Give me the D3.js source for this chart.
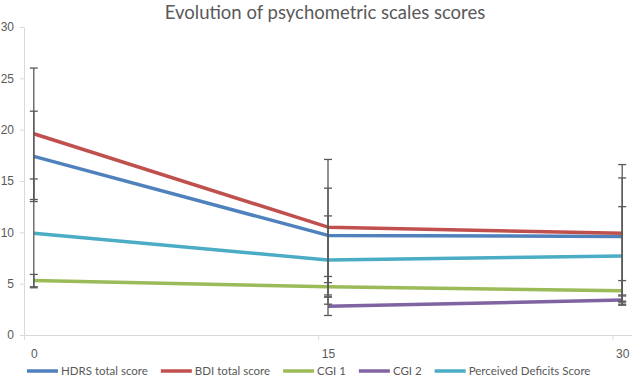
<!DOCTYPE html>
<html>
<head>
<meta charset="utf-8">
<script src="https://cdn.jsdelivr.net/npm/d3@7"></script>
<style>
  body { margin: 0; background: #fff; }
  svg { display: block; font-family: Lato, "Open Sans", sans-serif; }
</style>
</head>
<body>
<div id="chart"></div>
<script>
// Timepoints (days) and mean scores with their standard deviations
const days = [0, 15, 30];
const yTicks = [0, 5, 10, 15, 20, 25, 30];
const seriesNames = ['HDRS total score', 'BDI total score', 'CGI 1', 'CGI 2', 'Perceived Deficits Score'];
const hdrs = [17.4, 9.7, 9.6];
const hdrsSd = [4.4, 4.6, 5.7];
const bdi = [19.6, 10.5, 9.9];
const bdiSd = [6.4, 6.6, 6.7];
const cgi1 = [5.3, 4.7, 4.3];
const cgi1Sd = [0.6, 1.0, 1.0];
const cgi2 = [null, 2.8, 3.4];
const cgi2Sd = [null, 0.9, 0.4];
const deficits = [9.9, 7.3, 7.7];
const deficitsSd = [5.3, 4.3, 4.8];
const colors = ['#4F81BD', '#C0504D', '#9BBB59', '#8064A2', '#4BACC6'];

const width = 632, height = 377;
const margin = {top: 27, right: 0, bottom: 42, left: 24};

const series = [
  [hdrs, hdrsSd], [bdi, bdiSd], [cgi1, cgi1Sd], [cgi2, cgi2Sd], [deficits, deficitsSd]
].map(([vals, sds], i) => ({
  name: seriesNames[i],
  color: colors[i],
  points: days.map((d, j) => ({day: d, value: vals[j], sd: sds[j]}))
}));

const svg = d3.select('#chart').append('svg')
  .attr('width', width)
  .attr('height', height);

// category axis: 31 day slots, points sit in the middle of each slot
const x = d3.scaleLinear()
  .domain([days[0] - 0.5, days[days.length - 1] + 0.5])
  .range([margin.left, width - margin.right]);
const y = d3.scaleLinear()
  .domain([0, 30])
  .range([height - margin.bottom, margin.top]);

// title
svg.append('text')
  .attr('x', 325).attr('y', 19)
  .attr('text-anchor', 'middle')
  .attr('font-size', 18.5)
  .attr('fill', '#595959')
  .text('Evolution of psychometric scales scores');

// y axis
const yAxis = svg.append('g')
  .attr('transform', `translate(${margin.left},0)`)
  .call(d3.axisLeft(y).tickValues(yTicks).tickSize(4).tickPadding(6).tickSizeOuter(0));
yAxis.select('.domain').attr('stroke', '#D9D9D9');
yAxis.selectAll('.tick line').attr('stroke', '#D9D9D9');
yAxis.selectAll('.tick text').attr('fill', '#595959').attr('font-size', 12).attr('font-family', null);

// x axis: tick marks between slots, labels at the slot centres
const xAxis = svg.append('g')
  .attr('transform', `translate(0,${y(0)})`)
  .call(d3.axisBottom(x).tickValues(days.map(d => d - 0.5)).tickSize(5).tickFormat('').tickSizeOuter(0));
xAxis.select('.domain').attr('stroke', '#D9D9D9');
xAxis.selectAll('.tick line').attr('stroke', '#D9D9D9');

const xLabels = svg.append('g')
  .attr('transform', `translate(0,${y(0)})`)
  .call(d3.axisBottom(x).tickValues(days).tickSize(0).tickPadding(14));
xLabels.select('.domain').remove();
xLabels.selectAll('.tick text').attr('fill', '#595959').attr('font-size', 12).attr('font-family', null);

// lines
const line = d3.line()
  .defined(d => d.value != null)
  .x(d => x(d.day))
  .y(d => y(d.value));

svg.append('g').selectAll('path')
  .data(series)
  .join('path')
  .attr('fill', 'none')
  .attr('stroke', d => d.color)
  .attr('stroke-width', 3.5)
  .attr('stroke-linejoin', 'round')
  .attr('d', d => line(d.points));

// error bars (+/- SD)
const bars = svg.append('g').attr('stroke', '#595959').attr('stroke-width', 1.3);
series.forEach(s => {
  const pts = s.points.filter(p => p.value != null);
  bars.selectAll(null).data(pts).join('line')
    .attr('x1', p => x(p.day)).attr('x2', p => x(p.day))
    .attr('y1', p => y(p.value + p.sd)).attr('y2', p => y(p.value - p.sd));
  bars.selectAll(null).data(pts.flatMap(p => [p.value + p.sd, p.value - p.sd].map(v => ({day: p.day, v}))))
    .join('line')
    .attr('x1', c => x(c.day) - 4).attr('x2', c => x(c.day) + 4)
    .attr('y1', c => y(c.v)).attr('y2', c => y(c.v));
});

// legend
const legend = svg.append('g').attr('transform', `translate(0,${height - 6})`);
const items = legend.selectAll('g').data(series).join('g');
items.append('line')
  .attr('x1', 0).attr('x2', 31)
  .attr('stroke', d => d.color).attr('stroke-width', 3.5);
items.append('text')
  .attr('x', 34).attr('dy', '0.35em')
  .attr('font-size', 11.5).attr('fill', '#595959')
  .text(d => d.name);
let cursor = 27;
items.each(function() {
  const g = d3.select(this);
  g.attr('transform', `translate(${cursor},0)`);
  cursor += 34 + g.select('text').node().getComputedTextLength() + 13;
});
</script>
</body>
</html>
